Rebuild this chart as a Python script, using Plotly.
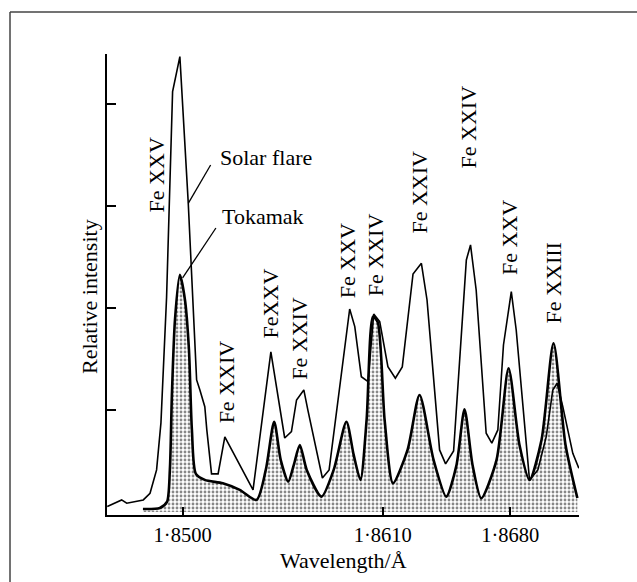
import plotly.graph_objects as go

# Solar flare spectrum (wavelength in Å, relative intensity)
solar_wl = [1.84586, 1.84628, 1.84665, 1.84693, 1.84784, 1.84821, 1.84857, 1.84881,
            1.84912, 1.84945, 1.84985, 1.85031, 1.85077, 1.85095, 1.85122, 1.85133,
            1.85159, 1.85195, 1.85232, 1.85387, 1.85485, 1.85561, 1.85598, 1.85626,
            1.85666, 1.85688, 1.85768, 1.85805, 1.85918, 1.85946, 1.85982, 1.86019,
            1.86050, 1.86083, 1.86128, 1.86169, 1.86207, 1.86266, 1.86312, 1.86343,
            1.86412, 1.86445, 1.86489, 1.86559, 1.86582, 1.86613, 1.86668, 1.86699,
            1.86732, 1.86763, 1.86806, 1.86833, 1.86906, 1.86952, 1.86998, 1.87034,
            1.87058, 1.87089, 1.87144, 1.87177]
solar_int = [0.052, 0.091, 0.118, 0.085, 0.118, 0.183, 0.412, 0.873,
             2.108, 4.121, 4.464, 3.029, 1.294, 1.196, 1.032, 0.804,
             0.373, 0.373, 0.735, 0.216, 1.569, 0.725, 0.787, 1.098,
             1.196, 1.000, 0.333, 0.412, 1.990, 1.817, 1.326, 1.277,
             1.941, 1.866, 1.425, 1.311, 1.422, 2.333, 2.438, 2.078,
             0.608, 0.471, 0.598, 2.471, 2.618, 2.176, 0.772, 0.674,
             0.804, 1.637, 2.160, 1.784, 0.314, 0.412, 0.738, 1.196,
             1.262, 1.032, 0.575, 0.428]

# Tokamak spectrum
tok_wl = [1.84782, 1.84875, 1.84914, 1.84930, 1.84941, 1.84958, 1.84985, 1.85013,
          1.85035, 1.85051, 1.85073, 1.85122, 1.85221, 1.85314, 1.85406, 1.85457,
          1.85503, 1.85539, 1.85580, 1.85611, 1.85644, 1.85682, 1.85763, 1.85830,
          1.85900, 1.85940, 1.85977, 1.86011, 1.86046, 1.86072, 1.86110, 1.86156,
          1.86236, 1.86302, 1.86379, 1.86449, 1.86505, 1.86549, 1.86593, 1.86641,
          1.86725, 1.86791, 1.86851, 1.86906, 1.86972, 1.87038, 1.87104, 1.87169]
tok_int = [0.029, 0.039, 0.098, 0.412, 1.137, 1.882, 2.324, 2.078,
           1.588, 0.804, 0.373, 0.314, 0.281, 0.216, 0.118, 0.412,
           0.885, 0.510, 0.297, 0.461, 0.657, 0.412, 0.150, 0.412,
           0.885, 0.559, 0.314, 0.902, 1.915, 1.863, 0.902, 0.281,
           0.608, 1.147, 0.510, 0.150, 0.461, 1.007, 0.461, 0.134,
           0.510, 1.409, 0.657, 0.314, 0.706, 1.654, 0.657, 0.137]

# Axis ticks
x_tickvals = [1.8500, 1.8610, 1.8680]
x_ticktext = ["1·8500", "1·8610", "1·8680"]
y_tickvals = [1, 2, 3, 4]

# Line labels
label_text = ["Fe XXV", "Fe XXIV", "FeXXV", "Fe XXIV", "Fe XXV", "Fe XXIV",
              "Fe XXIV", "Fe XXIV", "Fe XXV", "Fe XXIII"]
label_wl = [1.84859, 1.85241, 1.85488, 1.85644, 1.85910, 1.86064,
            1.86302, 1.86571, 1.86799, 1.87043]
label_int = [3.309, 1.275, 2.049, 1.706, 2.461, 2.520,
             3.137, 3.775, 2.686, 2.245]

FONT = "Liberation Serif, Times New Roman, serif"
FS = 22

fig = go.Figure()
fig.add_trace(go.Scatter(
    x=tok_wl, y=tok_int, mode="lines",
    line=dict(color="black", width=2.6, shape="spline", smoothing=0.7),
    fill="tozeroy", fillcolor="#ffffff",
    fillpattern=dict(shape=".", fgcolor="#111111", bgcolor="#ffffff", size=4, solidity=0.4),
    hoverinfo="skip"))
fig.add_trace(go.Scatter(
    x=solar_wl, y=solar_int, mode="lines",
    line=dict(color="black", width=1.6),
    hoverinfo="skip"))

annotations = []
for t, xw, yi in zip(label_text, label_wl, label_int):
    annotations.append(dict(x=xw, y=yi, xref="x", yref="y", text=t, textangle=-90,
                            showarrow=False, xanchor="center", yanchor="middle",
                            font=dict(family=FONT, size=FS, color="black")))
annotations.append(dict(x=1.851937, y=3.480, xref="x", yref="y", text="Solar flare",
                        showarrow=False, xanchor="left", yanchor="middle",
                        font=dict(family=FONT, size=FS, color="black")))
annotations.append(dict(x=1.85205, y=2.895, xref="x", yref="y", text="Tokamak",
                        showarrow=False, xanchor="left", yanchor="middle",
                        font=dict(family=FONT, size=FS, color="black")))
annotations.append(dict(x=0.5, y=-0.099, xref="paper", yref="paper", text="Wavelength/Å",
                        showarrow=False, xanchor="center", yanchor="middle",
                        font=dict(family=FONT, size=FS, color="black")))
annotations.append(dict(x=-0.036, y=0.473, xref="paper", yref="paper", text="Relative intensity",
                        textangle=-90, showarrow=False, xanchor="center", yanchor="middle",
                        font=dict(family=FONT, size=FS, color="black")))

shapes = [
    dict(type="line", xref="x", yref="y", x0=1.85031, y0=3.026, x1=1.85154, y1=3.402,
         line=dict(color="black", width=1.3)),
    dict(type="line", xref="x", yref="y", x0=1.85000, y0=2.294, x1=1.85183, y1=2.784,
         line=dict(color="black", width=1.3)),
    # page frame
    dict(type="line", xref="paper", yref="paper", x0=-0.2055, y0=1.0911, x1=1.13, y1=1.0911,
         line=dict(color="#444444", width=1.5)),
    dict(type="line", xref="paper", yref="paper", x0=-0.2055, y0=1.0911, x1=-0.2055, y1=-0.16,
         line=dict(color="#444444", width=1.5)),
]

fig.update_layout(
    width=637, height=582,
    margin=dict(l=107, r=58, t=54, b=67),
    paper_bgcolor="white", plot_bgcolor="white",
    showlegend=False, hovermode=False,
    annotations=annotations, shapes=shapes,
    font=dict(family=FONT, size=FS, color="black"),
)
fig.update_xaxes(range=[1.845846, 1.871780], showgrid=False, zeroline=False,
                 showline=True, linecolor="black", linewidth=2,
                 ticks="inside", ticklen=8, tickwidth=2, tickcolor="black",
                 tickvals=x_tickvals, ticktext=x_ticktext,
                 tickfont=dict(family=FONT, size=20.5, color="black"))
fig.update_yaxes(range=[-0.03, 4.49], showgrid=False, zeroline=False,
                 showline=True, linecolor="black", linewidth=2,
                 ticks="inside", ticklen=9, tickwidth=1.5, tickcolor="black",
                 tickvals=y_tickvals, showticklabels=False)

fig.write_html("out.html")
